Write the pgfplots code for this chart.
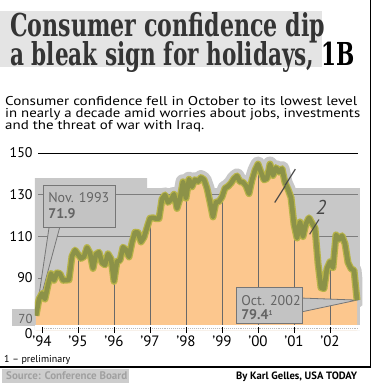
\documentclass[border=0pt]{standalone}
\usepackage{pgfplots}
\pgfplotsset{compat=1.18}
\usepackage{pgfplotstable}
\usepackage{graphicx}
\usepackage{fontspec}
\setmainfont{PT Sans}
\newfontfamily\titlefont{DejaVu Serif}
\definecolor{peach}{RGB}{252,199,142}
\definecolor{olivecore}{RGB}{140,146,72}
\definecolor{oliveedge}{RGB}{184,180,72}
\definecolor{graybg}{RGB}{200,200,200}
\definecolor{gridgray}{RGB}{125,125,125}
\definecolor{yeargray}{RGB}{105,105,105}
\definecolor{boxfill}{RGB}{195,195,195}
\definecolor{boxborder}{RGB}{118,118,118}
\definecolor{boxtext}{RGB}{100,100,100}
\definecolor{titlegray}{RGB}{52,52,52}
\definecolor{titlebg}{RGB}{228,228,228}
\definecolor{srcbg}{RGB}{205,205,205}
\definecolor{srctext}{RGB}{160,160,160}
\definecolor{hand}{RGB}{70,70,70}

\pgfplotstableread{
x y
1993.833 71.9
1993.917 79.8
1994.000 82.6
1994.083 79.9
1994.167 86.7
1994.250 92.1
1994.333 88.9
1994.417 92.5
1994.500 92.1
1994.583 88.9
1994.667 89.0
1994.750 89.1
1994.833 100.4
1994.917 103.4
1995.000 101.4
1995.083 99.4
1995.167 100.2
1995.250 104.6
1995.333 102.0
1995.417 94.6
1995.500 101.4
1995.583 102.4
1995.667 97.3
1995.750 96.3
1995.833 101.6
1995.917 99.2
1996.000 88.4
1996.083 98.0
1996.167 98.4
1996.250 104.8
1996.333 103.5
1996.417 100.1
1996.500 107.0
1996.583 112.0
1996.667 111.8
1996.750 107.3
1996.833 109.5
1996.917 114.2
1997.000 118.7
1997.083 118.9
1997.167 118.5
1997.250 118.5
1997.333 127.9
1997.417 129.9
1997.500 126.3
1997.583 127.6
1997.667 130.2
1997.750 123.4
1997.833 128.1
1997.917 136.2
1998.000 128.3
1998.083 137.4
1998.167 133.8
1998.250 137.2
1998.333 136.3
1998.417 138.2
1998.500 137.2
1998.583 133.1
1998.667 126.4
1998.750 119.3
1998.833 126.4
1998.917 126.7
1999.000 128.9
1999.083 133.1
1999.167 134.0
1999.250 135.5
1999.333 137.7
1999.417 139.0
1999.500 136.2
1999.583 136.0
1999.667 134.2
1999.750 130.5
1999.833 137.0
1999.917 141.7
2000.000 144.7
2000.083 140.8
2000.167 137.1
2000.250 137.7
2000.333 144.7
2000.417 139.2
2000.500 143.0
2000.583 140.8
2000.667 142.5
2000.750 135.8
2000.833 132.6
2000.917 128.6
2001.000 115.7
2001.083 109.2
2001.167 116.9
2001.250 109.9
2001.333 116.1
2001.417 118.9
2001.500 116.3
2001.583 114.0
2001.667 97.0
2001.750 85.3
2001.833 84.9
2001.917 94.6
2002.000 97.8
2002.083 95.0
2002.167 110.7
2002.250 108.5
2002.333 110.3
2002.417 106.4
2002.500 97.4
2002.583 94.5
2002.667 93.7
2002.750 79.4
}\conf

\begin{document}
\begin{tikzpicture}[x=1pt,y=1pt]
\useasboundingbox (0,0) rectangle (375,-385);
\fill[white] (0,0) rectangle (375,-385);
% title
\fill[titlebg] (0,-11) rectangle (322,-67);
\node[anchor=base west, inner sep=0pt, text=titlegray] at (10,-36.5)
  {\resizebox{315pt}{24pt}{\titlefont\bfseries Consumer confidence dip}};
\node[anchor=base west, inner sep=0pt, text=titlegray] at (10,-66)
  {\resizebox{345pt}{24pt}{\titlefont\bfseries a bleak sign for holidays, \textcolor{black}{1B}}};
% subtitle
\node[anchor=base west, inner sep=0pt] at (5,-105.6)
  {\resizebox{352pt}{9.1pt}{\fontsize{14}{14}\selectfont Consumer confidence fell in October to its lowest level}};
\node[anchor=base west, inner sep=0pt] at (5,-117.6)
  {\resizebox{355pt}{9.1pt}{\fontsize{14}{14}\selectfont in nearly a decade amid worries about jobs, investments}};
\node[anchor=base west, inner sep=0pt] at (5,-129.8)
  {\resizebox{199pt}{9.1pt}{\fontsize{14}{14}\selectfont and the threat of war with Iraq.}};
% gray box behind the 70 label
\fill[graybg] (12,-309) rectangle (36,-326);

\begin{axis}[
  at={(34.8pt,-330.1pt)}, anchor=south west,
  scale only axis, width=327.6pt, height=177.1pt,
  xmin=1993.8, xmax=2002.9, ymin=65, ymax=150,
  axis on top,
  axis line style={draw=none},
  xtick={1994,1995,1996,1997,1998,1999,2000,2001,2002},
  xticklabels={’94,’95,’96,’97,’98,’99,’00,’01,’02},
  ytick={65,70,90,110,130,150},
  yticklabels={\raisebox{-8pt}[0pt][0pt]{0},{\textcolor{boxtext}{\fontsize{13}{13}\selectfont\raisebox{-3.8pt}[0pt][0pt]{70}}},90,110,130,150},
  xtick pos=lower, ytick pos=left,
  xtick style={draw=black, line width=0.9pt},
  ytick style={draw=none},
  xtick align=center, major tick length=6pt,
  xticklabel style={font=\fontsize{15}{15}\selectfont, inner sep=1pt, yshift=-2pt},
  yticklabel style={font=\fontsize{14}{14}\selectfont, inner sep=1pt, xshift=-1pt},
]
% gray background region
\addplot[fill=graybg, draw=none] coordinates {
 (1993.8,65) (1993.8,138) (1996.92,138) (1996.92,133.2) (2002.83,133.2) (2002.83,65)} -- cycle;
% gray halo around the line
\addplot[graybg, line width=15pt, line join=round, line cap=round] table[x=x,y=y] {\conf};
% grid lines
\addplot[gridgray, line width=0.8pt] coordinates {(1993.89,130) (2002.78,130)};
\addplot[gridgray, line width=0.8pt] coordinates {(1993.89,110) (2002.78,110)};
\addplot[gridgray, line width=0.8pt] coordinates {(1993.89,90) (1994.6,90)};
% orange area
\addplot[fill=peach, draw=none] table[x=x,y=y] {\conf} \closedcycle;
% year lines
\addplot[ycomb, yeargray, line width=0.9pt, mark=none] coordinates {
 (1995,101.4) (1996,88.4) (1997,118.7) (1998,128.3) (1999,128.9) (2000,144.7) (2001,115.7) (2002,97.8)};
% bottom white strip
\fill[white] (axis cs:1993.8,65) rectangle (axis cs:2002.9,67.3);
\draw[gray!55, densely dotted, line width=0.9pt] (axis cs:1994.05,65.9) -- (axis cs:2002.8,65.9);
% pointers
\filldraw[fill=boxfill, draw=boxborder, line width=0.8pt]
  (axis cs:1994.2,114.8) -- (axis cs:1993.833,71.9) -- (axis cs:1994.5,114.8);
\filldraw[fill=boxfill, draw=boxborder, line width=0.8pt]
  (axis cs:2001.2,80.4) -- (axis cs:2002.75,79.4) -- (axis cs:2001.2,73.7);
% data line
\addplot[oliveedge, line width=7pt, line join=round] table[x=x,y=y] {\conf};
\addplot[olivecore, line width=4.6pt, line join=round] table[x=x,y=y] {\conf};
% 150 line
\addplot[black, line width=1pt] coordinates {(1993.89,150) (2002.78,150)};
% callout boxes
\node[draw=boxborder, fill=boxfill, line width=0.8pt, anchor=north west, inner sep=0pt,
  minimum width=72pt, minimum height=42pt] at (axis cs:1994.028,134.6) {};
\node[anchor=base west, inner sep=0pt, text=boxtext] at (axis cs:1994.17,126.2)
  {\fontsize{14}{14}\selectfont Nov. 1993};
\node[anchor=base west, inner sep=0pt, text=boxtext] at (axis cs:1994.17,118.7)
  {\fontsize{14}{14}\selectfont\bfseries 71.9};
\node[draw=boxborder, fill=boxfill, line width=0.8pt, anchor=north west, inner sep=0pt,
  minimum width=66pt, minimum height=36pt] at (axis cs:1999.389,85.6) {};
\node[anchor=base west, inner sep=0pt, text=boxtext] at (axis cs:1999.53,76.9)
  {\fontsize{14}{14}\selectfont Oct. 2002};
\node[anchor=base west, inner sep=0pt, text=boxtext] at (axis cs:1999.53,69.9)
  {\fontsize{14}{14}\selectfont\bfseries 79.4\raisebox{4pt}{\fontsize{7}{7}\selectfont 1}};
% handwritten marks
\node[text=hand, inner sep=0pt] at (axis cs:2000.6,130) {\fontsize{20}{20}\selectfont\itshape /};
\node[text=hand, inner sep=0pt] at (axis cs:2000.88,138) {\fontsize{20}{20}\selectfont\itshape /};
\node[text=hand, inner sep=0pt] at (axis cs:2001.75,124) {\fontsize{20}{20}\selectfont\itshape 2};
\node[text=hand, inner sep=0pt] at (axis cs:2001.55,114.5) {\fontsize{18}{18}\selectfont\itshape /};
\end{axis}

% footnotes and frame
\node[anchor=base west, inner sep=0pt] at (4,-362.5) {\fontsize{10}{10}\selectfont 1 -- preliminary};
\draw[black, line width=1.1pt] (0,-367) -- (371,-367);
\draw[black, line width=1.3pt] (370.5,0) -- (370.5,-367);
\fill[srcbg] (2,-368.5) rectangle (129,-382.5);
\node[anchor=base west, inner sep=0pt, text=srctext] at (6,-379)
  {\resizebox{121pt}{!}{\fontsize{10.5}{10.5}\selectfont\bfseries Source: Conference Board}};
\node[anchor=base west, inner sep=0pt] at (236,-379.5)
  {\resizebox{121pt}{!}{\fontsize{10}{10}\selectfont\bfseries By Karl Gelles, USA TODAY}};
\end{tikzpicture}
\end{document}
